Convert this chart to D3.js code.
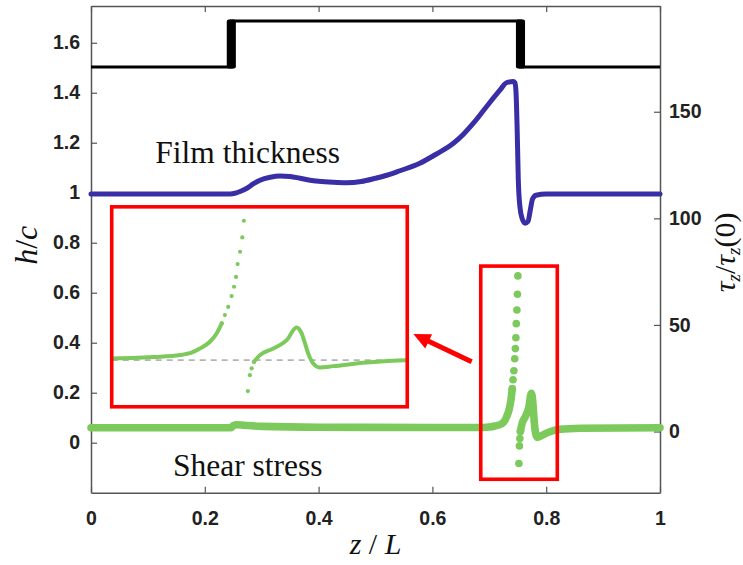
<!DOCTYPE html>
<html>
<head>
<meta charset="utf-8">
<script src="https://cdn.jsdelivr.net/npm/d3@7"></script>
<style>
body { margin: 0; background: #fff; }
.tick text { font-family: "Liberation Sans", Arial, sans-serif; font-weight: bold; font-size: 19.5px; fill: #222; }
.label { font-family: "Liberation Serif", "Times New Roman", serif; fill: #111; }
</style>
</head>
<body>
<div id="chart"></div>
<script>
// axis ticks
var zTicks = [0, 0.2, 0.4, 0.6, 0.8, 1];
var zTickLabels = ["0", "0.2", "0.4", "0.6", "0.8", "1"];
var hTicks = [0, 0.2, 0.4, 0.6, 0.8, 1, 1.2, 1.4, 1.6];
var hTickLabels = ["0", "0.2", "0.4", "0.6", "0.8", "1", "1.2", "1.4", "1.6"];
var tauTicks = [0, 50, 100, 150];
var tauTickLabels = ["0", "50", "100", "150"];

// groove profile (black)
var stepZ = [0, 0.2466, 0.2466, 0.7548, 0.7548, 1];
var stepH = [1.503, 1.503, 1.687, 1.687, 1.503, 1.503];
var grooveEdgeZ = [0.2466, 0.7548];

// film thickness h/c (blue)
var filmZ = [0, 0.245, 0.253, 0.263, 0.274, 0.285, 0.297, 0.315, 0.332, 0.35, 0.367, 0.385, 0.40, 0.425, 0.449, 0.475, 0.50, 0.52, 0.543, 0.578, 0.607, 0.637, 0.655, 0.672, 0.695, 0.719, 0.730, 0.742, 0.745, 0.747, 0.749, 0.751, 0.754, 0.758, 0.763, 0.768, 0.772, 0.776, 0.782, 0.80, 1];
var filmH = [0.995, 0.995, 0.998, 1.006, 1.018, 1.035, 1.05, 1.062, 1.067, 1.065, 1.058, 1.05, 1.046, 1.042, 1.04, 1.045, 1.058, 1.07, 1.088, 1.118, 1.155, 1.198, 1.235, 1.278, 1.344, 1.411, 1.44, 1.445, 1.44, 1.40, 1.25, 1.05, 0.94, 0.895, 0.878, 0.885, 0.93, 0.975, 0.99, 0.995, 0.995];

// shear stress tau_z/tau_z(0) (green): dense part before the spike, sparse spike points, dense part after
var shearZ1 = [0, 0.246, 0.250, 0.256, 0.27, 0.30, 0.40, 0.60, 0.69, 0.70, 0.71, 0.7216, 0.727, 0.7305, 0.735, 0.738, 0.7403];
var shearT1 = [1.8, 1.8, 2.8, 3.2, 2.9, 2.4, 2.0, 1.9, 1.9, 2.1, 2.6, 3.6, 5.0, 7.0, 10.5, 14.8, 20];
var spikeZ = [0.7403, 0.7417, 0.7432, 0.7447, 0.7458, 0.7467, 0.7474, 0.7485, 0.7495, 0.7502, 0.7520, 0.7529, 0.7537, 0.7547];
var spikeT = [20, 24.3, 28.5, 34.1, 38.9, 44, 50.6, 57, 64.4, 73, -15, -6.75, -3.3, 0.1];
var shearZ2 = [0.7547, 0.7574, 0.7634, 0.7694, 0.7738, 0.7761, 0.7776, 0.7790, 0.7813, 0.7843, 0.7902, 0.8052, 0.823, 0.86, 1];
var shearT2 = [0.1, 3.6, 7.0, 11.3, 17.9, 14.8, 9.6, 4.5, -0.7, -2.8, -2.1, -0.2, 1.0, 1.5, 1.8];

// inset: reference level, its own z / tau window, and where the boxes sit (in main axis units)
var insetRef = 1;
var insetZDomain = [0.691, 0.8234];
var insetTDomain = [-23.1, 80.2];
var insetBoxZ = [0.0364, 0.5558];
var insetBoxT = [11.6, 105.4];
var zoomBoxZ = [0.685, 0.8195];
var zoomBoxT = [-22.4, 77.6];
var arrowFrom = [0.669, 32.7];
var arrowTo = [0.5665, 45.7];

// Setting Dimensions
var margin = {top: 6, right: 83, bottom: 72.3, left: 91},
    width = 743 - margin.left - margin.right,
    height = 565 - margin.top - margin.bottom;

var x = d3.scaleLinear().domain([0, 1]).range([0, width]);
var yL = d3.scaleLinear().domain([-0.2, 1.747]).range([height, 0]);
var yR = d3.scaleLinear().domain([-28.7, 199.6]).range([height, 0]);

var svg = d3.select("#chart").append("svg")
    .attr("width", 743)
    .attr("height", 565)
  .append("g")
    .attr("transform", "translate(" + margin.left + "," + margin.top + ")");

var axisColor = "#555";
function styleAxis(g) {
    g.selectAll(".domain").attr("stroke", axisColor).attr("stroke-width", 1.5);
    g.selectAll(".tick line").attr("stroke", axisColor).attr("stroke-width", 1.2);
    g.attr("font-family", null).attr("font-size", null);
}

// axes (ticks inside, box on)
svg.append("g")
    .attr("transform", "translate(0," + height + ")")
    .call(d3.axisBottom(x).tickValues(zTicks).tickFormat(function(d, i) { return zTickLabels[i]; })
        .tickSizeInner(-6).tickSizeOuter(0).tickPadding(18))
    .call(styleAxis);
svg.append("g")
    .call(d3.axisTop(x).tickValues(zTicks).tickFormat("").tickSizeInner(-6).tickSizeOuter(0))
    .call(styleAxis);
svg.append("g")
    .call(d3.axisLeft(yL).tickValues(hTicks).tickFormat(function(d, i) { return hTickLabels[i]; })
        .tickSizeInner(-6).tickSizeOuter(0).tickPadding(11))
    .call(styleAxis);
svg.append("g")
    .attr("transform", "translate(" + width + ",0)")
    .call(d3.axisRight(yR).tickValues(tauTicks).tickFormat(function(d, i) { return tauTickLabels[i]; })
        .tickSizeInner(-6).tickSizeOuter(0).tickPadding(9))
    .call(styleAxis);

// groove profile
var stepLine = d3.line().x(function(d) { return x(d[0]); }).y(function(d) { return yL(d[1]); });
svg.append("path")
    .datum(d3.zip(stepZ, stepH))
    .attr("fill", "none").attr("stroke", "#000").attr("stroke-width", 3.2)
    .attr("d", stepLine);
svg.selectAll(".edge")
    .data(grooveEdgeZ)
  .enter().append("rect")
    .attr("class", "edge")
    .attr("x", function(d) { return x(d - 0.008); })
    .attr("width", function(d) { return x(d + 0.008) - x(d - 0.008); })
    .attr("y", yL(1.687) - 1.6)
    .attr("height", yL(1.503) - yL(1.687) + 3.2)
    .attr("rx", 2)
    .attr("fill", "#000");

// film thickness
var filmLine = d3.line().curve(d3.curveMonotoneX)
    .x(function(d) { return x(d[0]); }).y(function(d) { return yL(d[1]); });
svg.append("path")
    .datum(d3.zip(filmZ, filmH))
    .attr("fill", "none").attr("stroke", "#3a2ea6").attr("stroke-width", 5)
    .attr("stroke-linejoin", "round").attr("stroke-linecap", "round")
    .attr("d", filmLine);

// shear stress, drawn with given scales and sizes
var green = "#7dca5c";
function drawShear(g, sx, sy, lw, r) {
    var line = d3.line().curve(d3.curveMonotoneX)
        .x(function(d) { return sx(d[0]); }).y(function(d) { return sy(d[1]); });
    [d3.zip(shearZ1, shearT1), d3.zip(shearZ2, shearT2)].forEach(function(seg) {
        g.append("path")
            .datum(seg)
            .attr("fill", "none").attr("stroke", green).attr("stroke-width", lw)
            .attr("stroke-linejoin", "round").attr("stroke-linecap", "round")
            .attr("d", line);
    });
    g.selectAll(".dot")
        .data(d3.zip(spikeZ, spikeT))
      .enter().append("circle")
        .attr("class", "dot")
        .attr("r", r)
        .attr("cx", function(d) { return sx(d[0]); })
        .attr("cy", function(d) { return sy(d[1]); })
        .attr("fill", green);
}
drawShear(svg.append("g"), x, yR, 7.6, 3.8);

// inset
var xi = d3.scaleLinear().domain(insetZDomain).range([x(insetBoxZ[0]), x(insetBoxZ[1])]);
var yi = d3.scaleLinear().domain(insetTDomain).range([yR(insetBoxT[0]), yR(insetBoxT[1])]);
svg.append("clipPath").attr("id", "insetClip")
  .append("rect")
    .attr("x", xi.range()[0]).attr("y", yi.range()[1])
    .attr("width", xi.range()[1] - xi.range()[0])
    .attr("height", yi.range()[0] - yi.range()[1]);
var inset = svg.append("g").attr("clip-path", "url(#insetClip)");
inset.append("line")
    .attr("x1", xi(insetZDomain[0])).attr("x2", xi(insetZDomain[1]))
    .attr("y1", yi(insetRef)).attr("y2", yi(insetRef))
    .attr("stroke", "#b4b4b4").attr("stroke-width", 1.6).attr("stroke-dasharray", "6,5");
drawShear(inset, xi, yi, 4, 2.1);

// red boxes
svg.append("rect")
    .attr("x", x(insetBoxZ[0])).attr("y", yR(insetBoxT[1]))
    .attr("width", x(insetBoxZ[1]) - x(insetBoxZ[0]))
    .attr("height", yR(insetBoxT[0]) - yR(insetBoxT[1]))
    .attr("fill", "none").attr("stroke", "#ff0000").attr("stroke-width", 3.6);
svg.append("rect")
    .attr("x", x(zoomBoxZ[0])).attr("y", yR(zoomBoxT[1]))
    .attr("width", x(zoomBoxZ[1]) - x(zoomBoxZ[0]))
    .attr("height", yR(zoomBoxT[0]) - yR(zoomBoxT[1]))
    .attr("fill", "none").attr("stroke", "#ff0000").attr("stroke-width", 3.6);

// arrow
var ax0 = x(arrowFrom[0]), ay0 = yR(arrowFrom[1]);
var ax1 = x(arrowTo[0]), ay1 = yR(arrowTo[1]);
var ang = Math.atan2(ay1 - ay0, ax1 - ax0);
var headLen = 17, headW = 8;
var bx = ax1 - headLen * Math.cos(ang), by = ay1 - headLen * Math.sin(ang);
svg.append("line")
    .attr("x1", ax0).attr("y1", ay0).attr("x2", bx + 3 * Math.cos(ang)).attr("y2", by + 3 * Math.sin(ang))
    .attr("stroke", "#ff0000").attr("stroke-width", 5);
svg.append("path")
    .attr("d", "M" + ax1 + "," + ay1 +
        "L" + (bx + headW * Math.sin(ang)) + "," + (by - headW * Math.cos(ang)) +
        "L" + (bx - headW * Math.sin(ang)) + "," + (by + headW * Math.cos(ang)) + "Z")
    .attr("fill", "#ff0000");

// annotations
svg.append("text").attr("class", "label")
    .attr("x", x(0.113)).attr("y", yL(1.119))
    .attr("font-size", 31.5)
    .text("Film thickness");
svg.append("text").attr("class", "label")
    .attr("x", x(0.144)).attr("y", yR(-20.8))
    .attr("font-size", 31.5)
    .text("Shear stress");

// axis titles
var xt = svg.append("text").attr("class", "label")
    .attr("x", x(0.5)).attr("y", height + 61)
    .attr("text-anchor", "middle").attr("font-size", 30);
xt.append("tspan").attr("font-style", "italic").text("z");
xt.append("tspan").text(" / ");
xt.append("tspan").attr("font-style", "italic").text("L");

var yt = svg.append("text").attr("class", "label")
    .attr("transform", "translate(" + (-54) + "," + (yL(0.79)) + ") rotate(-90)")
    .attr("text-anchor", "middle").attr("font-size", 32);
yt.append("tspan").attr("font-style", "italic").text("h");
yt.append("tspan").text("/");
yt.append("tspan").attr("font-style", "italic").text("c");

var rt = svg.append("text").attr("class", "label")
    .attr("transform", "translate(" + (width + 75) + "," + (yR(84)) + ") rotate(-90)")
    .attr("text-anchor", "middle").attr("font-size", 30);
rt.append("tspan").attr("font-style", "italic").text("τ");
rt.append("tspan").attr("font-style", "italic").attr("font-size", 19).attr("dy", 5).text("z");
rt.append("tspan").attr("dy", -5).text("/");
rt.append("tspan").attr("font-style", "italic").text("τ");
rt.append("tspan").attr("font-style", "italic").attr("font-size", 19).attr("dy", 5).text("z");
rt.append("tspan").attr("dy", -5).text("(0)");
</script>
</body>
</html>
